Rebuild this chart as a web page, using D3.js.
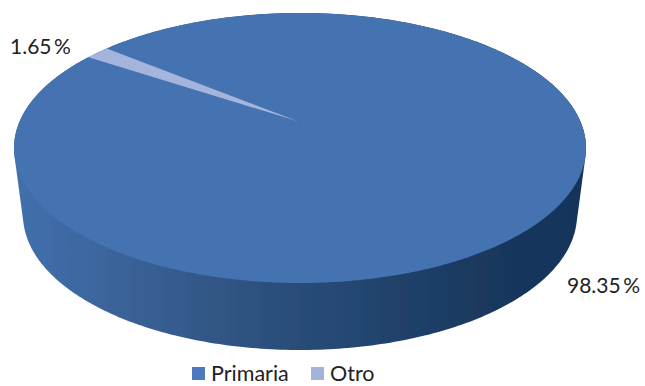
<!DOCTYPE html>
<html lang="es">

<head>
    <meta charset="UTF-8">
    <title>Primaria / Otro</title>
    <script src="https://d3js.org/d3.v7.min.js"></script>
    <style>
        html, body { margin: 0; padding: 0; background: #fff; }
        svg { display: block; }
        text { font-family: Lato, "Open Sans", sans-serif; fill: #222; }
    </style>
</head>

<body>
    <svg width="645" height="386"></svg>

    <script>
        const categories = ["Primaria", "Otro"];
        const values = [98.35, 1.65];
        const colors = ["#4572b0", "#a3b5dc"];
        const legendColors = ["#4c7abd", "#a2b4dc"];

        const svg = d3.select("svg");

        // top face ellipse, the centre of the pie sits above the ellipse centre (perspective)
        const cx = 300, cy = 148, rx = 286, ry = 135;
        const apexY = 122;
        const k = (apexY - cy) / ry;
        const s = Math.sqrt(1 - k * k);

        // bottom rim of the wall
        const bx = 300, by = 215, brx = 277, bry = 135;

        // unit circle point (angle clockwise from top) -> tilted disc on screen
        function project(a) {
            const u = Math.sin(a), v = -Math.cos(a);
            const d = 1 + k * v;
            return [cx + rx * u * s / d, cy + ry * (v + k) / d];
        }

        const pie = d3.pie().sort(null)
            .startAngle(-50.6 * Math.PI / 180)
            .endAngle((360 - 50.6) * Math.PI / 180);
        const arcs = pie(values);

        const defs = svg.append("defs");
        const grad = defs.append("linearGradient")
            .attr("id", "wall")
            .attr("gradientUnits", "userSpaceOnUse")
            .attr("x1", 14).attr("x2", 586).attr("y1", 0).attr("y2", 0);
        [[0, "#4270ad"], [0.2, "#3a6298"], [0.35, "#315685"], [0.5, "#294c78"],
         [0.7, "#1f4069"], [0.85, "#19375c"], [1, "#17335a"]].forEach(d => {
            grad.append("stop").attr("offset", d[0]).attr("stop-color", d[1]);
        });
        defs.append("filter").attr("id", "soft")
            .append("feGaussianBlur").attr("stdDeviation", 0.6);

        const g = svg.append("g").attr("filter", "url(#soft)");

        // wall = outline around both rims
        const rim = d3.range(0, 2 * Math.PI, Math.PI / 180);
        const hull = d3.polygonHull(
            rim.map(a => [cx + rx * Math.cos(a), cy + ry * Math.sin(a)])
                .concat(rim.map(a => [bx + brx * Math.cos(a), by + bry * Math.sin(a)]))
        );
        const line = d3.line();
        g.append("path")
            .attr("d", line(hull) + "Z")
            .attr("fill", "url(#wall)");

        // top face slices
        g.selectAll(".slice")
            .data(arcs)
            .join("path")
            .attr("class", "slice")
            .attr("d", d => {
                const n = Math.ceil((d.endAngle - d.startAngle) / 0.01);
                const pts = d3.range(n + 1).map(i => project(d.startAngle + (d.endAngle - d.startAngle) * i / n));
                return line([[cx, apexY]].concat(pts)) + "Z";
            })
            .attr("fill", (d, i) => colors[i]);

        // value labels
        const labelPos = [[567, 293], [10, 54]];
        svg.selectAll(".label")
            .data(values)
            .join("text")
            .attr("class", "label")
            .attr("x", (d, i) => labelPos[i][0])
            .attr("y", (d, i) => labelPos[i][1])
            .attr("font-size", 21)
            .text(d => d.toFixed(2) + "\u2009%");

        // legend
        const legendX = [192, 311];
        const legend = svg.selectAll(".legend")
            .data(categories)
            .join("g")
            .attr("class", "legend")
            .attr("transform", (d, i) => `translate(${legendX[i]},367)`);
        legend.append("rect")
            .attr("width", 13).attr("height", 13)
            .attr("fill", (d, i) => legendColors[i]);
        legend.append("text")
            .attr("x", 19).attr("y", 14)
            .attr("font-size", 21.5)
            .text(d => d);
    </script>
</body>

</html>
